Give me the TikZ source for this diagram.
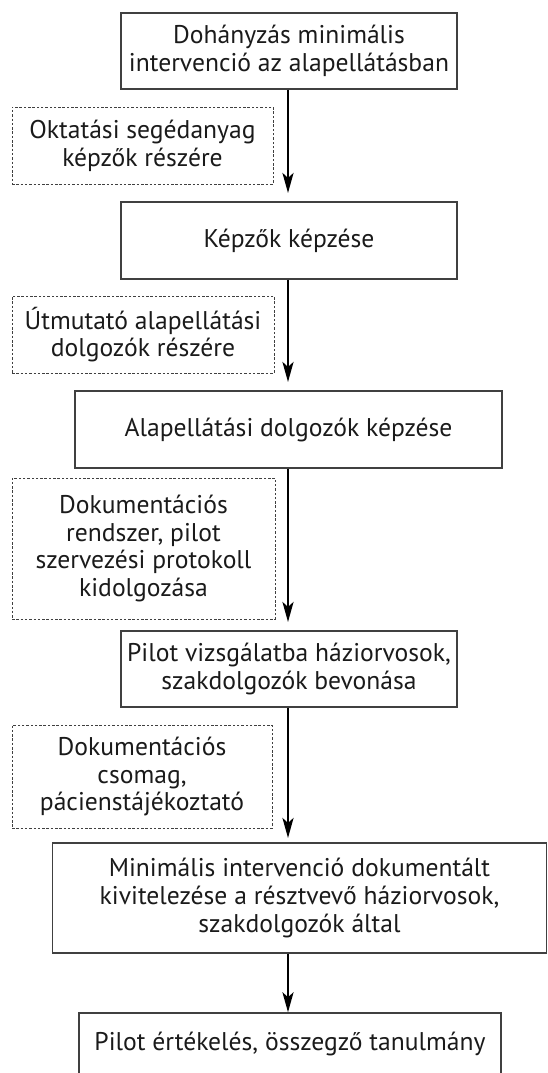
\documentclass[tikz,border=0pt]{standalone}
\usepackage{fontspec}
\setmainfont{PT Sans}
\usetikzlibrary{arrows.meta}
\definecolor{boxline}{HTML}{404040}
\definecolor{txt}{HTML}{1A1A1A}
\begin{document}
\begin{tikzpicture}[x=1pt,y=-1pt,
  every node/.style={font=\fontsize{25.6}{27.7}\selectfont, text=txt, align=center, inner sep=0pt},
  mainbox/.style={draw=boxline, line width=1.4pt},
  sidebox/.style={draw=boxline, line width=1pt, dash pattern=on 2.5pt off 1.8pt},
  flow/.style={line width=2.7pt, -{Stealth[length=20pt,width=11pt,inset=5pt]}}
]
\useasboundingbox (0,0) rectangle (547,1073);
\node[mainbox, minimum width=336pt, minimum height=76pt] (b1) at (289,51) {Dohányzás minimális\\intervenció az alapellátásban};
\node[mainbox, minimum width=336pt, minimum height=77pt] (b2) at (289,240.5) {Képzők képzése};
\node[mainbox, minimum width=427pt, minimum height=77pt] (b3) at (288.5,429.5) {Alapellátási dolgozók képzése};
\node[mainbox, minimum width=336pt, minimum height=76pt] (b4) at (289,669) {Pilot vizsgálatba háziorvosok,\\szakdolgozók bevonása};
\node[mainbox, minimum width=494pt, minimum height=110pt] (b5) at (299.5,898) {Minimális intervenció dokumentált\\kivitelezése a résztvevő háziorvosok,\\szakdolgozók által};
\node[mainbox, minimum width=422pt, minimum height=62pt] (b6) at (290,1044) {Pilot értékelés, összegző tanulmány};

\node[sidebox, minimum width=261pt, minimum height=77pt] (d1) at (142.5,145.5) {Oktatási segédanyag\\képzők részére};
\node[sidebox, minimum width=262pt, minimum height=77pt] (d2) at (143,334.5) {Útmutató alapellátási\\dolgozók részére};
\node[sidebox, minimum width=263pt, minimum height=141pt] (d3) at (143.5,548.5) {Dokumentációs\\rendszer, pilot\\szervezési protokoll\\kidolgozása};
\node[sidebox, minimum width=260pt, minimum height=103pt] (d4) at (142,776.5) {Dokumentációs\\csomag,\\pácienstájékoztató};

\coordinate (t1) at (288,193);
\coordinate (t2) at (288,382);
\coordinate (t3) at (288,622);
\coordinate (t4) at (288,838);

\draw[flow] (b1.south -| t1) -- (t1);
\draw[flow] (b2.south -| t2) -- (t2);
\draw[flow] (b3.south -| t3) -- (t3);
\draw[flow] (b4.south -| t4) -- (t4);
\draw[flow] (b5.south -| t4) -- (b6.north -| t4);
\end{tikzpicture}
\end{document}
